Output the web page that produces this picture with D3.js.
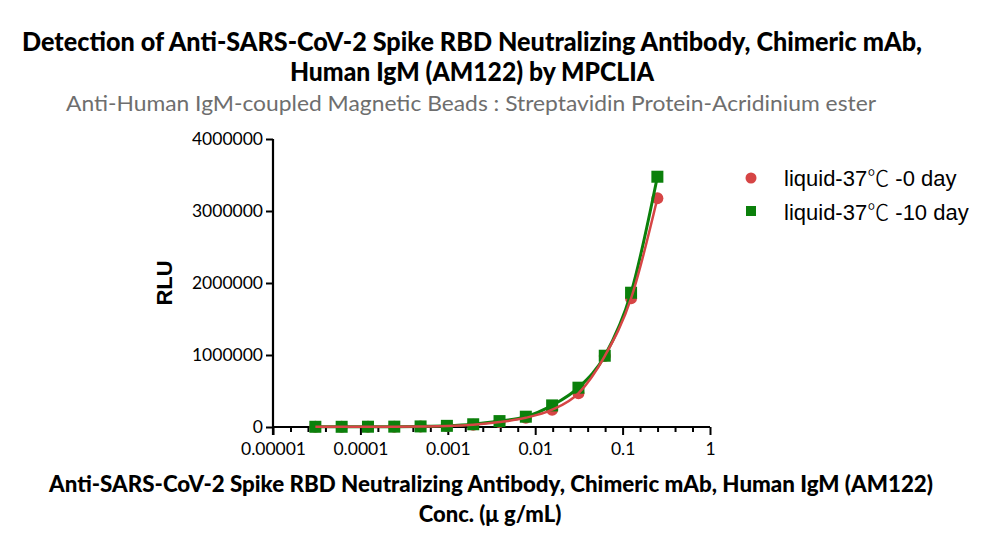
<!DOCTYPE html>
<html>
<head>
<meta charset="utf-8">
<script src="https://cdn.jsdelivr.net/npm/d3@7"></script>
<style>
  html, body { margin: 0; padding: 0; background: #fff; }
  svg { display: block; }
</style>
</head>
<body>
<svg id="chart" width="1000" height="546"></svg>
<script>
// ---- Data ----
const concentrations = [0.25, 0.125, 0.0625, 0.03125, 0.015625, 0.0078125, 0.00390625,
  0.001953125, 0.0009765625, 0.00048828125, 0.000244140625, 0.0001220703125,
  0.00006103515625, 0.000030517578125];
const day0Values  = [3176000, 1787000, 985000, 468000, 240000, 128000, 68000, 30000, 13000, 7000, 4000, 3000, 3000, 3000];
const day10Values = [3476000, 1865000, 990000, 546000, 300000, 143000, 82000, 38000, 16000, 8000, 5000, 4000, 3000, 3000];
const seriesNames = [["liquid-37", "\u2103", " -0 day"], ["liquid-37", "\u2103", " -10 day"]];
const xTickValues = [0.00001, 0.0001, 0.001, 0.01, 0.1, 1];
const xTickLabels = ["0.00001", "0.0001", "0.001", "0.01", "0.1", "1"];
const yTickValues = [0, 1000000, 2000000, 3000000, 4000000];
const yTickLabels = ["0", "1000000", "2000000", "3000000", "4000000"];
const titleLines = ["Detection of Anti-SARS-CoV-2 Spike RBD Neutralizing Antibody, Chimeric mAb,",
                    "Human IgM (AM122) by MPCLIA"];
const subtitle = "Anti-Human IgM-coupled Magnetic Beads : Streptavidin Protein-Acridinium ester";
const xTitleLines = ["Anti-SARS-CoV-2 Spike RBD Neutralizing Antibody, Chimeric mAb, Human IgM (AM122)",
                     "Conc. (\u03bc g/mL)"];
const yTitle = "RLU";

// ---- Layout ----
const RED = "#d64545", GREEN = "#0b800b";
const svg = d3.select("#chart");
const x = d3.scaleLog().domain([1e-5, 1]).range([273, 710]);
const y = d3.scaleLinear().domain([0, 4000000]).range([427, 139]);
const titleFont = "Lato, 'Open Sans', sans-serif";
const arial = "'Liberation Sans', Arial, sans-serif";

// Titles
svg.append("text").attr("x", 472).attr("y", 51).attr("text-anchor", "middle")
  .attr("font-family", titleFont).attr("font-weight", "900").attr("font-size", 26)
  .attr("textLength", 900).attr("lengthAdjust", "spacingAndGlyphs")
  .text(titleLines[0]);
svg.append("text").attr("x", 472).attr("y", 81).attr("text-anchor", "middle")
  .attr("font-family", titleFont).attr("font-weight", "900").attr("font-size", 26)
  .attr("textLength", 364).attr("lengthAdjust", "spacingAndGlyphs")
  .text(titleLines[1]);
svg.append("text").attr("x", 471).attr("y", 111).attr("text-anchor", "middle")
  .attr("font-family", titleFont).attr("font-size", 22).attr("fill", "#6e6e6e")
  .attr("textLength", 810).attr("lengthAdjust", "spacingAndGlyphs")
  .text(subtitle);

// X axis title
svg.append("text").attr("x", 491).attr("y", 492).attr("text-anchor", "middle")
  .attr("font-family", titleFont).attr("font-weight", "900").attr("font-size", 22)
  .attr("textLength", 884).attr("lengthAdjust", "spacingAndGlyphs")
  .text(xTitleLines[0]);
svg.append("text").attr("x", 490).attr("y", 522).attr("text-anchor", "middle")
  .attr("font-family", titleFont).attr("font-weight", "900").attr("font-size", 22)
  .text(xTitleLines[1]);

// Y axis title
svg.append("text").attr("transform", "translate(172,283) rotate(-90)")
  .attr("text-anchor", "middle")
  .attr("font-family", arial).attr("font-weight", "bold")
  .attr("font-size", 22).text(yTitle);

// Minor x ticks (every 0.2 decade)
const minorVals = [];
for (let k = -5; k < 0; k++) for (let j = 1; j < 5; j++) minorVals.push(Math.pow(10, k + j * 0.2));

const xAxisG = svg.append("g").attr("transform", "translate(0,427)");
xAxisG.call(d3.axisBottom(x).tickValues(minorVals).tickSize(5).tickFormat(""))
  .call(g => g.selectAll("text").remove());
const xMajor = svg.append("g").attr("transform", "translate(0,427)")
  .call(d3.axisBottom(x).tickValues(xTickValues).tickSize(8).tickPadding(8)
    .tickFormat((d, i) => xTickLabels[i]));
[xAxisG, xMajor].forEach(g => {
  g.select(".domain").attr("stroke", "#000").attr("stroke-width", 2.2)
    .attr("d", "M" + x.range()[0] + ",0H" + x.range()[1]);
  g.selectAll(".tick line").attr("stroke", "#000").attr("stroke-width", 2);
});
xMajor.selectAll("text").attr("font-family", titleFont).attr("font-size", 17.5).attr("fill", "#000");

const yAxisG = svg.append("g").attr("transform", "translate(273,0)")
  .call(d3.axisLeft(y).tickValues(yTickValues).tickSize(7).tickPadding(3)
    .tickFormat((d, i) => yTickLabels[i]));
yAxisG.select(".domain").attr("stroke", "#000").attr("stroke-width", 2.2)
  .attr("d", "M0," + y.range()[1] + "V" + (y.range()[0] + 8));
yAxisG.selectAll(".tick line").attr("stroke", "#000").attr("stroke-width", 2);
yAxisG.selectAll("text").attr("font-family", titleFont).attr("font-size", 17.5).attr("fill", "#000")
  .attr("dy", "0.3em");

// Data
const d0 = concentrations.map((c, i) => ({ c, v: day0Values[i] }));
const d10 = concentrations.map((c, i) => ({ c, v: day10Values[i] }));
const line = d3.line().x(d => x(d.c)).y(d => y(d.v)).curve(d3.curveMonotoneX);

// markers
svg.append("g").selectAll("circle").data(d0).join("circle")
  .attr("cx", d => x(d.c)).attr("cy", d => y(d.v)).attr("r", 6).attr("fill", RED);
svg.append("g").selectAll("rect").data(d10).join("rect")
  .attr("x", d => x(d.c) - 6).attr("y", d => y(d.v) - 6)
  .attr("width", 12).attr("height", 12).attr("fill", GREEN);

// lines
svg.append("path").datum(d10.slice().sort((a, b) => a.c - b.c)).attr("d", line)
  .attr("fill", "none").attr("stroke", GREEN).attr("stroke-width", 3);
svg.append("path").datum(d0.slice().sort((a, b) => a.c - b.c)).attr("d", line)
  .attr("fill", "none").attr("stroke", RED).attr("stroke-width", 2.5);

// Legend
const legend = svg.append("g");
legend.append("circle").attr("cx", 751).attr("cy", 178).attr("r", 5.5).attr("fill", RED);
legend.append("rect").attr("x", 746).attr("y", 206).attr("width", 10).attr("height", 10).attr("fill", GREEN);
[186, 220].forEach((yy, i) => {
  const t = legend.append("text").attr("x", 784).attr("y", yy)
    .attr("font-family", arial).attr("font-size", 22);
  t.append("tspan").text(seriesNames[i][0]);
  t.append("tspan").attr("font-family", "'Noto Sans CJK SC', 'DejaVu Sans', sans-serif")
    .attr("font-weight", "300").text(seriesNames[i][1]);
  t.append("tspan").text(seriesNames[i][2]);
});
</script>
</body>
</html>
